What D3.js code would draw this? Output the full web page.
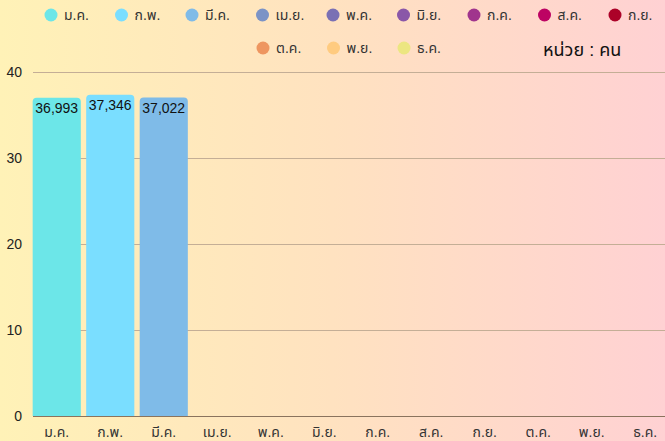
<!DOCTYPE html>
<html>
<head>
<meta charset="utf-8">
<script src="https://cdn.jsdelivr.net/npm/d3@7"></script>
<style>
  html, body { margin: 0; padding: 0; }
  svg { display: block; font-family: "Liberation Sans", "Noto Sans", "Noto Sans Thai", "DejaVu Sans", sans-serif; }
</style>
</head>
<body>
<svg id="chart"></svg>
<script>
// months (Thai abbreviations)
const months = ["ม.ค.", "ก.พ.", "มี.ค.", "เม.ย.", "พ.ค.", "มิ.ย.", "ก.ค.", "ส.ค.", "ก.ย.", "ต.ค.", "พ.ย.", "ธ.ค."];
// number of people per month (only first three have data)
const people = [36993, 37346, 37022];
const monthColors = ["#6ce6e8", "#7adeff", "#7fbbe8", "#7b93c6", "#7a70b4", "#8a57a8", "#a0358d", "#bd0363", "#ac0228", "#ee9660", "#ffcb80", "#ece681"];
const yTicks = [0, 10, 20, 30, 40];
const unitLabel = "หน่วย : คน";

const width = 665, height = 441;
const margin = { top: 72, right: 0, bottom: 25, left: 30 };

const svg = d3.select("#chart").attr("width", width).attr("height", height);

// background gradient, yellow to pink
const grad = svg.append("defs").append("linearGradient")
  .attr("id", "bg").attr("x1", "0%").attr("x2", "100%").attr("y1", "0%").attr("y2", "0%");
grad.append("stop").attr("offset", "0%").attr("stop-color", "#fff2b7");
grad.append("stop").attr("offset", "50%").attr("stop-color", "#ffe2c0");
grad.append("stop").attr("offset", "100%").attr("stop-color", "#ffd1d3");
svg.append("rect").attr("width", width).attr("height", height).attr("fill", "url(#bg)");

const x = d3.scaleBand()
  .domain(months)
  .range([margin.left, 672])
  .paddingInner(0.1)
  .paddingOuter(0.05);

const y = d3.scaleLinear()
  .domain([0, 40])
  .range([height - margin.bottom, margin.top]);

// gridlines
svg.append("g")
  .selectAll("line")
  .data(yTicks)
  .join("line")
  .attr("x1", 33)
  .attr("x2", width)
  .attr("y1", d => Math.round(y(d)) + 0.5)
  .attr("y2", d => Math.round(y(d)) + 0.5)
  .attr("stroke", d => d === 0 ? "#8a735d" : "#c4ae96")
  .attr("stroke-width", 1);

// y tick labels
svg.append("g")
  .selectAll("text")
  .data(yTicks)
  .join("text")
  .attr("x", 22)
  .attr("y", d => y(d))
  .attr("dy", "0.35em")
  .attr("text-anchor", "end")
  .attr("font-size", 14)
  .attr("fill", "#222")
  .text(d => d);

// bars with rounded top corners
function topRounded(x0, y0, w, h, r) {
  r = Math.min(r, h, w / 2);
  return `M${x0},${y0 + h}V${y0 + r}Q${x0},${y0} ${x0 + r},${y0}H${x0 + w - r}Q${x0 + w},${y0} ${x0 + w},${y0 + r}V${y0 + h}Z`;
}

const barData = people.map((v, i) => ({ month: months[i], value: v, color: monthColors[i] }));

svg.append("g")
  .selectAll("path")
  .data(barData)
  .join("path")
  .attr("fill", d => d.color)
  .attr("d", d => {
    const top = y(d.value / 1000);
    return topRounded(x(d.month), top, x.bandwidth(), y(0) - top, 4);
  });

// value labels inside bar tops
svg.append("g")
  .selectAll("text")
  .data(barData)
  .join("text")
  .attr("x", d => x(d.month) + x.bandwidth() / 2)
  .attr("y", d => y(d.value / 1000) + 10)
  .attr("dy", "0.35em")
  .attr("text-anchor", "middle")
  .attr("font-size", 14)
  .attr("fill", "#111")
  .text(d => d3.format(",")(d.value));

// x labels
svg.append("g")
  .selectAll("text")
  .data(months)
  .join("text")
  .attr("x", d => x(d) + x.bandwidth() / 2)
  .attr("y", 432)
  .attr("dy", "0.35em")
  .attr("text-anchor", "middle")
  .attr("font-size", 14)
  .attr("fill", "#333")
  .text(d => d);

// legend: 9 on first row, 3 centred on second row
const legend = svg.append("g");
const item = legend.selectAll("g")
  .data(months)
  .join("g")
  .attr("transform", (d, i) => {
    const cx = i < 9 ? 51 + i * 70.5 : 263 + (i - 9) * 70.5;
    const cy = i < 9 ? 15 : 48;
    return `translate(${cx},${cy})`;
  });
item.append("circle").attr("r", 6.5).attr("fill", (d, i) => monthColors[i]);
item.append("text")
  .attr("x", 13)
  .attr("dy", "0.35em")
  .attr("font-size", 14)
  .attr("fill", "#333")
  .text(d => d);

svg.append("text")
  .attr("x", 543)
  .attr("y", 50)
  .attr("dy", "0.35em")
  .attr("font-size", 18)
  .attr("fill", "#111")
  .text(unitLabel);
</script>
</body>
</html>
